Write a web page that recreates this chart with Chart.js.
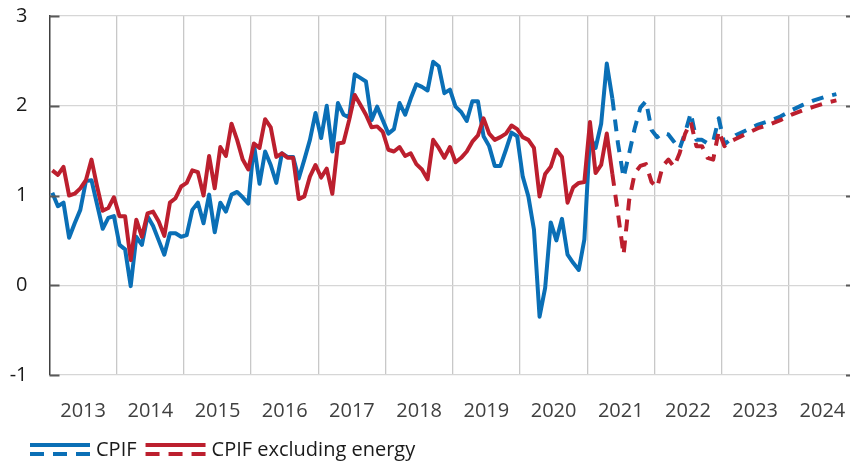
<!DOCTYPE html>
<html>
<head>
<meta charset="utf-8">
<script src="https://cdn.jsdelivr.net/npm/chart.js@4/dist/chart.umd.min.js"></script>
<style>
  html, body { margin: 0; padding: 0; overflow: hidden; background: #fff; }
  #wrap { width: 856px; height: 463px; }
</style>
</head>
<body>
<div id="wrap"><canvas id="chart" width="856" height="463"></canvas></div>
<script>
// ============ Data ============
// x = month index, 0 = Jan 2013
const YEARS = ["2013","2014","2015","2016","2017","2018","2019","2020","2021","2022","2023","2024"];
const Y_TICKS = [-1, 0, 1, 2, 3];

// Outcomes Jan 2013 .. May 2021
const cpifHist = [
  1.03, 0.88, 0.92, 0.53, 0.69, 0.84, 1.16, 1.17, 0.90, 0.63, 0.75, 0.77,
  0.45, 0.40, -0.01, 0.54, 0.45, 0.77, 0.66, 0.50, 0.34, 0.58, 0.58, 0.54,
  0.56, 0.84, 0.92, 0.69, 1.01, 0.59, 0.92, 0.82, 1.01, 1.04, 0.98, 0.91,
  1.57, 1.13, 1.49, 1.34, 1.14, 1.47, 1.43, 1.43, 1.19, 1.40, 1.62, 1.92,
  1.64, 2.00, 1.49, 2.03, 1.90, 1.87, 2.35, 2.31, 2.27, 1.84, 1.99, 1.84,
  1.69, 1.74, 2.03, 1.90, 2.08, 2.24, 2.21, 2.17, 2.49, 2.44, 2.14, 2.18,
  1.99, 1.93, 1.83, 2.05, 2.05, 1.66, 1.55, 1.33, 1.33, 1.51, 1.70, 1.66,
  1.21, 0.99, 0.62, -0.35, -0.03, 0.70, 0.50, 0.74, 0.34, 0.25, 0.17, 0.51,
  1.66, 1.53, 1.80, 2.47, 2.08
];
const cpifxeHist = [
  1.28, 1.23, 1.32, 1.00, 1.02, 1.08, 1.17, 1.40, 1.10, 0.83, 0.86, 0.98,
  0.77, 0.77, 0.28, 0.73, 0.54, 0.80, 0.82, 0.71, 0.55, 0.92, 0.97, 1.10,
  1.14, 1.28, 1.26, 1.00, 1.44, 1.08, 1.54, 1.44, 1.80, 1.62, 1.40, 1.29,
  1.58, 1.53, 1.85, 1.76, 1.43, 1.47, 1.42, 1.42, 0.96, 0.99, 1.21, 1.34,
  1.20, 1.30, 1.02, 1.58, 1.59, 1.84, 2.12, 2.01, 1.90, 1.76, 1.77, 1.71,
  1.51, 1.49, 1.54, 1.44, 1.47, 1.35, 1.29, 1.18, 1.62, 1.53, 1.42, 1.54,
  1.37, 1.42, 1.49, 1.60, 1.67, 1.86, 1.69, 1.62, 1.65, 1.69, 1.78, 1.74,
  1.65, 1.62, 1.53, 0.99, 1.24, 1.32, 1.51, 1.43, 0.92, 1.09, 1.14, 1.15,
  1.82, 1.25, 1.34, 1.69, 1.24
];

// Forecast, May 2021 onwards
const fcMonths = [
  100, 101, 102, 103, 104, 105, 106, 107, 108, 109, 110, 111,
  112, 113, 114, 115, 116, 117, 118, 119, 120, 121, 122,
  124, 126, 128, 130, 132, 134, 136, 138, 140
];
const cpifFc = [
  2.08, 1.58, 1.20, 1.47, 1.75, 1.98, 2.05, 1.73, 1.65, 1.70, 1.68, 1.60,
  1.52, 1.70, 1.92, 1.62, 1.62, 1.58, 1.60, 1.86, 1.57, 1.62, 1.67,
  1.73, 1.79, 1.83, 1.88, 1.95, 2.01, 2.06, 2.10, 2.13
];
const cpifxeFc = [
  1.24, 0.80, 0.34, 0.95, 1.25, 1.33, 1.35, 1.15, 1.09, 1.33, 1.40, 1.32,
  1.47, 1.69, 1.82, 1.55, 1.55, 1.42, 1.40, 1.72, 1.55, 1.60, 1.63,
  1.69, 1.75, 1.79, 1.84, 1.90, 1.95, 1.99, 2.03, 2.06
];

// ============ Style ============
const BLUE = "#0A6FB6";
const RED = "#BC1F2E";
const GRID = "#d6d6d6";
const FONT = { family: "'Open Sans', 'Noto Sans', sans-serif", size: 20 };
const DASH = [12, 9];

const histMonths = cpifHist.map((_, i) => i);
const toXY = (xs, ys) => xs.map((x, i) => ({ x, y: ys[i] }));

// year boundaries (gridlines) and mid-year (labels)
const boundaryTicks = YEARS.slice(1).map((_, k) => 11.5 + 12 * k);
const labelTicks = YEARS.map((_, k) => 5.5 + 12 * k);

function lineDs(label, data, color, dashed){
  return {
    label, data, borderColor: color, backgroundColor: color,
    borderWidth: 4, pointRadius: 0, tension: 0,
    borderDash: dashed ? DASH : [], borderCapStyle: "butt", borderJoinStyle: "round"
  };
}

// inward tick marks on both y sides
const axisMarks = {
  id: "axisMarks",
  afterDraw(chart){
    const { ctx, chartArea: a, scales: { y } } = chart;
    ctx.save();
    ctx.strokeStyle = "#595959";
    ctx.lineWidth = 2;
    Y_TICKS.forEach(v => {
      const py = Math.round(y.getPixelForValue(v)) + 0.5;
      ctx.beginPath();
      ctx.moveTo(a.left, py); ctx.lineTo(a.left + 10, py);
      ctx.moveTo(a.right - 10, py); ctx.lineTo(a.right, py);
      ctx.stroke();
    });
    ctx.restore();
  }
};

// legend: solid over dashed swatch + text
const legendPlug = {
  id: "legendPlug",
  afterDraw(chart){
    const { ctx, chartArea: a } = chart;
    const items = [{ label: "CPIF", color: BLUE }, { label: "CPIF excluding energy", color: RED }];
    const yText = a.bottom + 75;
    let x = 30;
    ctx.save();
    ctx.font = `${FONT.size}px ${FONT.family}`;
    ctx.textBaseline = "middle";
    items.forEach(it => {
      ctx.strokeStyle = it.color;
      ctx.lineWidth = 4;
      ctx.setLineDash([]);
      ctx.beginPath(); ctx.moveTo(x, a.bottom + 70); ctx.lineTo(x + 60, a.bottom + 70); ctx.stroke();
      ctx.setLineDash([14, 9]);
      ctx.beginPath(); ctx.moveTo(x, a.bottom + 79); ctx.lineTo(x + 60, a.bottom + 79); ctx.stroke();
      ctx.setLineDash([]);
      ctx.fillStyle = "#1a1a1a";
      ctx.fillText(it.label, x + 66, yText);
      x += 66 + ctx.measureText(it.label).width + 9;
    });
    ctx.restore();
  }
};

new Chart(document.getElementById("chart"), {
  type: "line",
  data: {
    datasets: [
      lineDs("CPIF excluding energy", toXY(histMonths, cpifxeHist), RED, false),
      lineDs("CPIF excluding energy forecast", toXY(fcMonths, cpifxeFc), RED, true),
      lineDs("CPIF", toXY(histMonths, cpifHist), BLUE, false),
      lineDs("CPIF forecast", toXY(fcMonths, cpifFc), BLUE, true)
    ]
  },
  options: {
    responsive: false,
    animation: false,
    layout: { padding: { top: 16, right: 0, bottom: 36, left: 0 } },
    plugins: { legend: { display: false }, tooltip: { enabled: false } },
    scales: {
      x: {
        type: "linear", min: -0.5, max: 143.5,
        afterBuildTicks: s => { s.ticks = boundaryTicks.concat(labelTicks).sort((a, b) => a - b).map(v => ({ value: v })); },
        afterFit: s => { s.height = 52; s.paddingLeft = 0; s.paddingRight = 0; },
        ticks: {
          autoSkip: false, maxRotation: 0, padding: 24, font: FONT, color: "#404040",
          callback: v => { const k = labelTicks.indexOf(v); return k >= 0 ? YEARS[k] : ""; }
        },
        grid: {
          drawTicks: false, lineWidth: 1.3,
          color: c => (c.tick && boundaryTicks.includes(c.tick.value)) ? "#c8c8c8" : "rgba(0,0,0,0)"
        },
        border: { display: false }
      },
      y: {
        min: -1, max: 3,
        afterFit: s => { s.width = 49.5; s.paddingTop = 0; s.paddingBottom = 0; },
        afterBuildTicks: s => { s.ticks = Y_TICKS.map(v => ({ value: v })); },
        ticks: { padding: 22, font: FONT, color: "#1a1a1a", callback: v => String(v) },
        grid: { drawTicks: false, color: GRID, lineWidth: 1.3 },
        border: { display: true, color: "#404040", width: 1.5 }
      }
    }
  },
  plugins: [axisMarks, legendPlug]
});
</script>
</body>
</html>
